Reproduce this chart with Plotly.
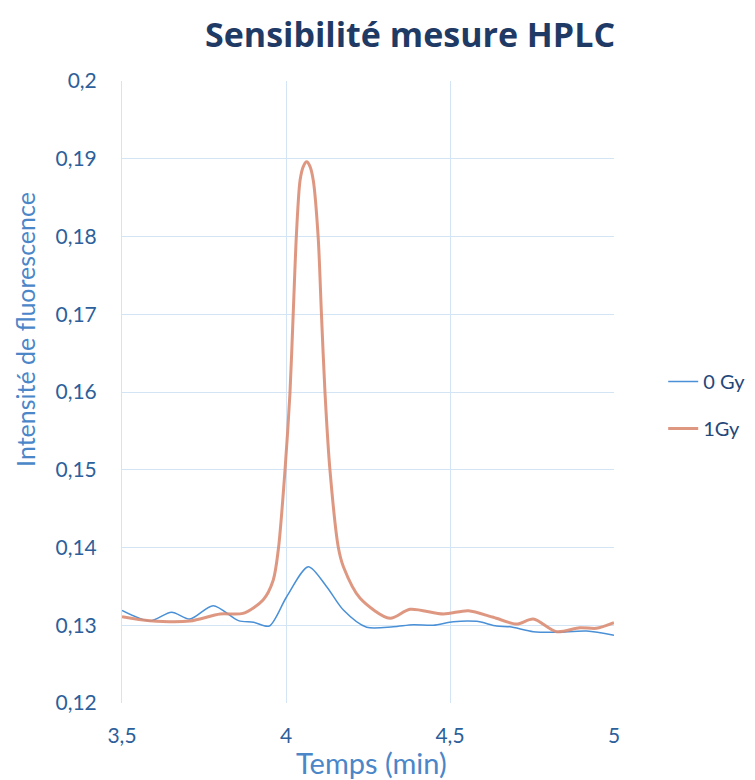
import plotly.graph_objects as go

x_0gy = [3.5, 3.585, 3.651, 3.707, 3.778, 3.855, 3.901, 3.949, 4.002, 4.068, 4.124, 4.175,
         4.246, 4.327, 4.388, 4.449, 4.510, 4.581, 4.642, 4.683, 4.754, 4.825, 4.917, 5.0]
y_0gy = [0.1319, 0.13055, 0.13167, 0.1308, 0.13252, 0.13059, 0.13038, 0.1299, 0.13367, 0.13753,
         0.13496, 0.13196, 0.12974, 0.12981, 0.13007, 0.13, 0.13046, 0.1305, 0.1299, 0.1298,
         0.12917, 0.1291, 0.12926, 0.1287]

x_1gy = [3.5, 3.585, 3.707, 3.799, 3.869, 3.930, 3.961, 3.977, 3.997, 4.012, 4.022, 4.032,
         4.043, 4.053, 4.063, 4.073, 4.083, 4.098, 4.108, 4.119, 4.134, 4.160, 4.175, 4.226,
         4.317, 4.378, 4.480, 4.556, 4.632, 4.703, 4.754, 4.825, 4.896, 4.946, 5.0]
y_1gy = [0.1311, 0.13059, 0.13055, 0.13145, 0.13153, 0.13325, 0.1358, 0.1399, 0.14997, 0.15983,
         0.17012, 0.18045, 0.18727, 0.18903, 0.18962, 0.18903, 0.18727, 0.17998, 0.17012, 0.15983,
         0.14997, 0.1399, 0.13753, 0.13347, 0.13089, 0.13205, 0.13145, 0.13187, 0.13102, 0.13016,
         0.1308, 0.12917, 0.12968, 0.1296, 0.13033]

x_ticks = [3.5, 4, 4.5, 5]
y_ticks = [0.12, 0.13, 0.14, 0.15, 0.16, 0.17, 0.18, 0.19, 0.2]

FONT = "Lato, Open Sans, sans-serif"

fig = go.Figure()
fig.add_trace(go.Scatter(x=x_0gy, y=y_0gy, name="0 Gy", mode="lines",
                         line=dict(color="#4A90D6", width=1.5, shape="spline", smoothing=0.8),
                         legendgroup="a"))
fig.add_trace(go.Scatter(x=x_1gy, y=y_1gy, name="1Gy", mode="lines",
                         line=dict(color="rgba(218,140,115,0.9)", width=3, shape="spline", smoothing=0.8),
                         legendgroup="b"))

grid = "#D3E4F5"
tickfont = dict(family=FONT, size=21, color="#2D5F9A")
fig.update_layout(
    width=755, height=780,
    margin=dict(l=114, r=149, t=73, b=85, autoexpand=False),
    paper_bgcolor="white", plot_bgcolor="white",
    separators=",.",
    xaxis=dict(range=[3.5, 5], tickvals=x_ticks, showgrid=True, gridcolor=grid, gridwidth=1,
               zeroline=False, showline=False, tickfont=tickfont, ticks="", ticklabelstandoff=18),
    yaxis=dict(range=[0.12, 0.2], tickvals=y_ticks, showgrid=True, gridcolor=grid, gridwidth=1,
               zeroline=False, showline=True, linecolor=grid, tickfont=tickfont, ticks="",
               ticklabelstandoff=20),
    legend=dict(x=1.10, xanchor="left", y=0.479, yanchor="middle", tracegroupgap=18,
                font=dict(family=FONT, size=20, color="#24477A"),
                bgcolor="rgba(0,0,0,0)"),
    showlegend=True,
)
fig.add_annotation(text="<b>Sensibilité mesure HPLC</b>", xref="paper", yref="paper",
                   x=(402 - 114) / 492, y=(695 - 1) / 622, xanchor="center", yanchor="top",
                   showarrow=False,
                   font=dict(family="Open Sans, sans-serif", size=34, color="#1F3A64"))
fig.add_annotation(text="Intensité de fluorescence", textangle=-90, xref="paper", yref="paper",
                   x=-0.197, y=0.6, xanchor="center", yanchor="middle", showarrow=False,
                   font=dict(family=FONT, size=25, color="#4A86C8"))
fig.add_annotation(text="Temps (min)", xref="paper", yref="paper",
                   x=0.508, y=-0.0949, xanchor="center", yanchor="middle", showarrow=False,
                   font=dict(family=FONT, size=29, color="#4A86C8"))

fig.write_html("out.html")
